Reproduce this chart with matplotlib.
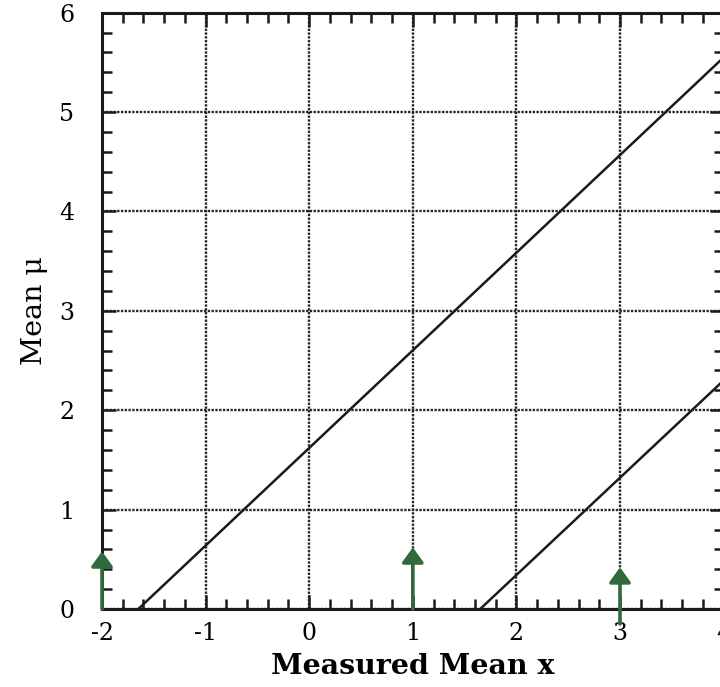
import matplotlib
matplotlib.use("Agg")
import matplotlib.pyplot as plt
from matplotlib.ticker import MultipleLocator

# Confidence belt edges, read as end points (x, mu)
upper_x = [-1.65, 4.0]
upper_mu = [0.0, 5.55]
lower_x = [1.65, 4.0]
lower_mu = [0.0, 2.3]

# Hand-drawn arrows marking measured values
arrow_x = [-2.0, 1.0, 3.0]
arrow_base = [0.0, 0.0, -0.15]
arrow_tip = [0.58, 0.62, 0.42]

xticks = [-2, -1, 0, 1, 2, 3, 4]
yticks = [0, 1, 2, 3, 4, 5, 6]

plt.rcParams['font.family'] = ['DejaVu Serif']
plt.rcParams['axes.unicode_minus'] = False

fig = plt.figure(figsize=(7.2, 6.87), dpi=100)
ax = fig.add_axes([0.1417, 0.1135, 0.8633, 0.868])

# Belt lines
ax.plot(upper_x, upper_mu, color='#1a1a1a', lw=1.8)
ax.plot(lower_x, lower_mu, color='#1a1a1a', lw=1.8)

# Green arrows
for x, b, t in zip(arrow_x, arrow_base, arrow_tip):
    ax.annotate('', xy=(x, t), xytext=(x, b), annotation_clip=False,
                arrowprops=dict(arrowstyle='-|>,head_length=0.9,head_width=0.65',
                                color='#2f6b3c', lw=2.6, shrinkA=0, shrinkB=0))

ax.set_xlim(-2, 4)
ax.set_ylim(0, 6)
ax.set_xticks(xticks)
ax.set_yticks(yticks)
ax.xaxis.set_minor_locator(MultipleLocator(0.2))
ax.yaxis.set_minor_locator(MultipleLocator(0.2))

ax.grid(True, which='major', color='#262626', linestyle=(0, (1, 0.6)), lw=1.7)
ax.tick_params(which='both', direction='in', top=True, right=True,
               width=1.8, color='#1a1a1a', labelsize=17)
ax.tick_params(which='major', length=10)
ax.tick_params(which='minor', length=7)
ax.tick_params(axis='y', pad=20)
ax.tick_params(axis='x', pad=9)
for s in ax.spines.values():
    s.set_linewidth(2.2)
    s.set_color('#1a1a1a')

ax.set_xlabel('Measured Mean x', fontsize=20.5, fontweight='bold', labelpad=6)
ax.set_ylabel('Mean μ', fontsize=20.5, labelpad=8)

fig.savefig('out.png', dpi=100)
